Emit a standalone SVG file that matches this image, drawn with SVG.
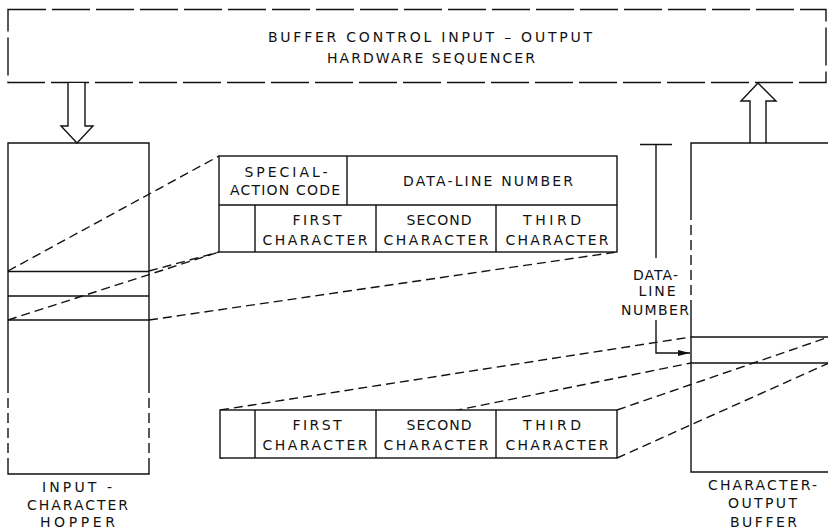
<svg xmlns="http://www.w3.org/2000/svg" width="828" height="529" viewBox="0 0 828 529">
<defs>
<style>
.ln{fill:none;stroke:#111;stroke-width:1.4}
.box{fill:#fff;stroke:#111;stroke-width:1.4}
.dsh{fill:none;stroke:#111;stroke-width:1.4;stroke-dasharray:9 5}
.edge{fill:none;stroke:#111;stroke-width:1.4;stroke-dasharray:10 5}
.seq{fill:none;stroke:#111;stroke-width:1.4;stroke-dasharray:38 6}
.arr{fill:#fff;stroke:#111;stroke-width:1.4;stroke-linejoin:miter}
text{font-family:"DejaVu Sans","Liberation Sans",sans-serif;font-size:14px;fill:#111;text-anchor:middle}
</style>
<marker id="ah" viewBox="0 0 12 6" refX="12" refY="3" markerWidth="12" markerHeight="6" markerUnits="userSpaceOnUse" orient="auto">
<path d="M0,0 L12,3 L0,6 Z" fill="#111"/>
</marker>
</defs>
<rect width="828" height="529" fill="#fff"/>

<g id="sequencer">
<rect class="seq" x="8" y="9.5" width="818" height="73"/>
<text x="430" y="42" textLength="324" lengthAdjust="spacing">BUFFER CONTROL INPUT – OUTPUT</text>
<text x="431" y="63" textLength="208" lengthAdjust="spacing">HARDWARE SEQUENCER</text>
</g>

<g id="connectors">
<path class="arr" d="M68,83 V126 H61 L77,143 L93,126 H85 V83"/>
<path class="arr" d="M750,143 V101 H741 L758,83 L776,101 H766 V143"/>
<path class="dsh" d="M8,271 L219,156"/>
<path class="dsh" d="M8,320 L219,252"/>
<path class="dsh" d="M149,271 L219,252"/>
<path class="dsh" d="M149,320 L617,252"/>
<path class="dsh" d="M220,410 L691,337"/>
<path class="dsh" d="M220,458 L691,363"/>
<path class="dsh" d="M617,410 L829,337"/>
<path class="dsh" d="M617,458 L829,363"/>
</g>

<g id="hopper">
<path class="ln" d="M8,383 V143 H149 V383"/>
<path class="edge" d="M8,383 V465 M149,383 V465"/>
<path class="ln" d="M8,465 V474 H149 V465"/>
<path class="ln" d="M8,271.5 H149 M8,296 H149 M8,320 H149"/>
<text x="77" y="492" textLength="70" lengthAdjust="spacing">INPUT -</text>
<text x="77.5" y="510" textLength="101" lengthAdjust="spacing">CHARACTER</text>
<text x="77.5" y="527" textLength="75" lengthAdjust="spacing">HOPPER</text>
</g>

<g id="output-buffer">
<path class="ln" d="M691,210 V143 H829"/>
<path class="edge" d="M691,210 V305"/>
<path class="ln" d="M691,305 V472 H829"/>
<path class="ln" d="M691,337 H829 M691,363 H829"/>
<text x="762.5" y="490" textLength="109" lengthAdjust="spacing">CHARACTER-</text>
<text x="762.5" y="508" textLength="69" lengthAdjust="spacing">OUTPUT</text>
<text x="763.5" y="527" textLength="67" lengthAdjust="spacing">BUFFER</text>
</g>

<g id="upper-record">
<rect class="box" x="219" y="156" width="398" height="96"/>
<path class="ln" d="M219,205 H617 M347,156 V205 M255,205 V252 M376,205 V252 M496,205 V252"/>
<text x="286" y="177" textLength="83" lengthAdjust="spacing">SPECIAL-</text>
<text x="285" y="195" textLength="110" lengthAdjust="spacing">ACTION CODE</text>
<text x="488" y="186" textLength="170" lengthAdjust="spacing">DATA-LINE NUMBER</text>
<text x="317" y="225" textLength="49" lengthAdjust="spacing">FIRST</text>
<text x="315" y="245" textLength="105" lengthAdjust="spacing">CHARACTER</text>
<text x="439" y="225" textLength="65" lengthAdjust="spacing">SECOND</text>
<text x="436" y="245" textLength="105" lengthAdjust="spacing">CHARACTER</text>
<text x="552" y="225" textLength="58" lengthAdjust="spacing">THIRD</text>
<text x="557" y="245" textLength="103" lengthAdjust="spacing">CHARACTER</text>
</g>

<g id="lower-record">
<rect class="box" x="220" y="410" width="397" height="48"/>
<path class="ln" d="M255,410 V458 M376,410 V458 M496,410 V458"/>
<text x="317" y="430" textLength="49" lengthAdjust="spacing">FIRST</text>
<text x="315" y="450" textLength="105" lengthAdjust="spacing">CHARACTER</text>
<text x="439" y="430" textLength="65" lengthAdjust="spacing">SECOND</text>
<text x="436" y="450" textLength="105" lengthAdjust="spacing">CHARACTER</text>
<text x="552" y="430" textLength="58" lengthAdjust="spacing">THIRD</text>
<text x="557" y="450" textLength="103" lengthAdjust="spacing">CHARACTER</text>
</g>

<g id="data-line-pointer">
<path class="ln" d="M640,144.5 H672 M656,144.5 V258"/>
<path class="ln" d="M656,320 V353 H690" marker-end="url(#ah)"/>
<text x="655.5" y="280" textLength="45" lengthAdjust="spacing">DATA-</text>
<text x="657" y="296" textLength="37" lengthAdjust="spacing">LINE</text>
<text x="655" y="315" textLength="68" lengthAdjust="spacing">NUMBER</text>
</g>
</svg>
